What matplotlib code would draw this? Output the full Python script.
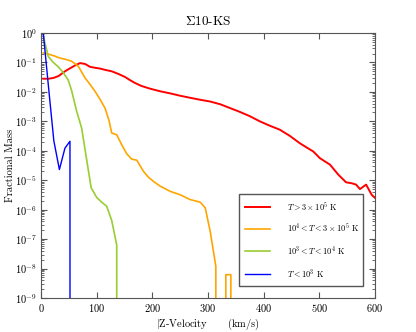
import matplotlib
matplotlib.use("Agg")
import matplotlib.pyplot as plt
import numpy as np

# |Z| velocity bins (km/s) and fractional mass per temperature phase
v_hot = [4, 14, 23, 32, 43, 52, 61, 70, 79, 88, 97, 106, 115, 127, 140, 151, 160,
         169, 180, 195, 214, 232, 250, 268, 286, 304, 322, 340, 357, 375, 393, 411,
         429, 447, 465, 480, 489, 501, 519, 534, 548, 558, 566, 573, 584, 594, 600]
m_hot = [2.8e-2, 2.8e-2, 3.0e-2, 3.5e-2, 5.0e-2, 6.3e-2, 7.9e-2, 9.5e-2, 8.9e-2,
         7.1e-2, 6.6e-2, 6.2e-2, 5.6e-2, 5.0e-2, 4.0e-2, 3.2e-2, 2.5e-2, 2.0e-2,
         1.6e-2, 1.3e-2, 1.05e-2, 8.9e-3, 7.4e-3, 6.3e-3, 5.4e-3, 4.7e-3, 3.8e-3,
         2.8e-3, 2.1e-3, 1.5e-3, 1.0e-3, 7.1e-4, 5.2e-4, 3.2e-4, 1.8e-4, 1.2e-4,
         9.5e-5, 5.6e-5, 3.4e-5, 1.55e-5, 8.5e-6, 7.9e-6, 7.1e-6, 5.0e-6, 7.1e-6,
         3.2e-6, 2.5e-6]

v_warm = [4, 14, 24, 34, 45, 55, 67, 79, 88, 97, 106, 115, 122, 127, 136, 145, 154,
          163, 172, 184, 193, 202, 214, 232, 250, 268, 286, 295, 304, 314, 323, 332,
          341, 350]
m_warm = [0.21, 0.19, 0.166, 0.141, 0.126, 0.11, 0.074, 0.030, 0.018, 0.0105,
          5.6e-3, 2.8e-3, 1.1e-3, 4.0e-4, 3.5e-4, 1.6e-4, 7.9e-5, 5.2e-5, 4.8e-5,
          2.0e-5, 1.26e-5, 9.1e-6, 6.3e-6, 4.2e-6, 3.2e-6, 2.2e-6, 1.8e-6, 1.15e-6,
          1.8e-7, 1.2e-8, 0, 6.2e-9, 6.2e-9, 0]

v_cool = [4, 13, 22, 31, 40, 49, 55, 64, 73, 82, 90, 100, 109, 118, 127, 136, 145]
m_cool = [0.8, 0.16, 0.1, 0.071, 0.045, 0.025, 0.011, 2.2e-3, 5.9e-4, 5.0e-5,
          5.6e-6, 2.6e-6, 1.8e-6, 1.3e-6, 4.3e-7, 6.3e-8, 0]

v_cold = [3, 13, 23, 33, 43, 52, 61]
m_cold = [1.6, 1.8e-2, 2.2e-4, 2.3e-5, 1.23e-4, 2.1e-4, 0]

plt.rcParams.update({"font.family": "serif", "font.serif": ["cmr10"],
                     "mathtext.fontset": "cm", "axes.formatter.use_mathtext": True,
                     "axes.unicode_minus": False})

fig = plt.figure(figsize=(4.16, 3.32), dpi=100)
ax = fig.add_axes([0.0986, 0.1024, 0.8029, 0.7982])

ax.plot(v_hot, m_hot, color="#ff0000", lw=1.4, label=r"$T > 3 \times 10^5$ K")
ax.plot(v_warm, m_warm, color="#ffa500", lw=1.2, label=r"$10^4 < T < 3 \times 10^5$ K")
ax.plot(v_cool, m_cool, color="#9acd32", lw=1.2, label=r"$10^3 < T < 10^4$ K")
ax.plot(v_cold, m_cold, color="#0000ff", lw=1.0, label=r"$T < 10^3$ K")

ax.set_yscale("log", nonpositive="clip")
ax.set_xlim(0, 600)
ax.set_ylim(1e-9, 1)
ax.set_xticks([0, 100, 200, 300, 400, 500, 600])
ax.set_yticks([10.0**k for k in range(-9, 1)])

for s in ax.spines.values():
    s.set_color("#555555")
ax.tick_params(which="both", direction="in", top=True, right=True,
               color="#555555", labelsize=7.5, pad=3)
ax.tick_params(which="major", length=4)
ax.tick_params(which="minor", length=2)

ax.set_title(r"$\Sigma$10-KS", fontsize=9.5, pad=6)
ax.set_xlabel(r"$|$Z-Velocity      (km/s)", fontsize=7.5, labelpad=2)
ax.set_ylabel("Fractional Mass", fontsize=7.5, labelpad=0)

leg = ax.legend(loc="lower left", bbox_to_anchor=(0.581, 0.030, 0.394, 0.344),
                mode="expand", fontsize=6, handlelength=3.0, handletextpad=2.0,
                labelspacing=1.2, borderpad=0.7, fancybox=False, framealpha=1,
                edgecolor="#555555")
leg.get_frame().set_linewidth(1.0)

fig.savefig("out.png", dpi=100)
